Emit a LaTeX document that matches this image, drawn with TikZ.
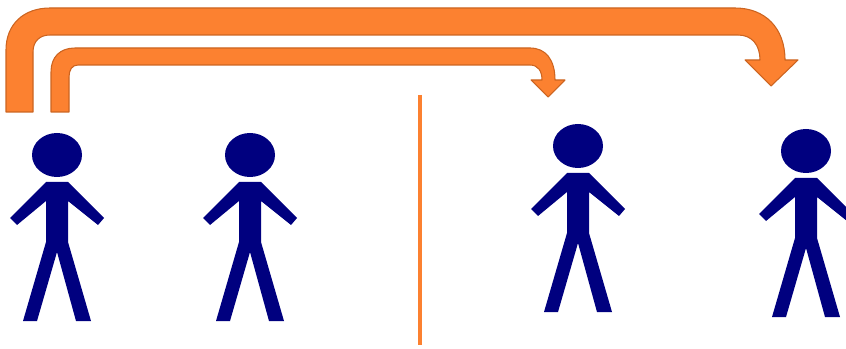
\documentclass[tikz,border=0pt]{standalone}
\usepackage{tikz}
\definecolor{ArrowFill}{HTML}{FC8130}
\definecolor{ArrowEdge}{HTML}{CC6420}
\definecolor{PersonBlue}{HTML}{00007F}

\begin{document}
\begin{tikzpicture}[
  x=0.75pt,y=-0.75pt,
  bigarrow/.style={fill=ArrowFill,draw=ArrowEdge,line width=0.8pt,line join=round},
  divider/.style={draw=ArrowFill,line width=3pt},
  person/.pic={
    \fill[PersonBlue] (0,0) ellipse[x radius=25,y radius=22];
    \fill[PersonBlue] (-11,27) -- (11,27) -- (47,63) -- (41,70) -- (11,46)
      -- (11,87) -- (34,166) -- (19,166) -- (0,97) -- (-20,166) -- (-34,166) -- (-11,87)
      -- (-11,46) -- (-40,70) -- (-47,63) -- cycle;
  },
]
\useasboundingbox (0,0) rectangle (846,349);

% long arrow
\draw[bigarrow] (6,112) -- (6,50) .. controls (6,24) and (24,8) .. (50,8) -- (735,8)
  .. controls (765,8) and (785,28) .. (785,60) -- (798,60) -- (771,86) -- (745,60) -- (760,60)
  .. controls (760,45) and (752,35) .. (738,35) -- (50,35)
  .. controls (40,35) and (33,41) .. (33,52) -- (33,112) -- cycle;
% short arrow
\draw[bigarrow] (51,112) -- (51,72) .. controls (51,57) and (60,48) .. (75,48) -- (530,48)
  .. controls (546,48) and (555,60) .. (555,80) -- (565,80) -- (548,97) -- (531,80) -- (542,80)
  .. controls (542,71) and (538,65) .. (530,65) -- (78,65)
  .. controls (72,65) and (69,70) .. (69,77) -- (69,112) -- cycle;

\coordinate (top) at (420,95);
\coordinate (bottom) at (420,345);
\draw[divider] (top) -- (bottom);

\pic at (57,155) {person};
\pic at (250,155) {person};
\pic at (578,146) {person};
\pic at (806,151) {person};
\end{tikzpicture}
\end{document}
